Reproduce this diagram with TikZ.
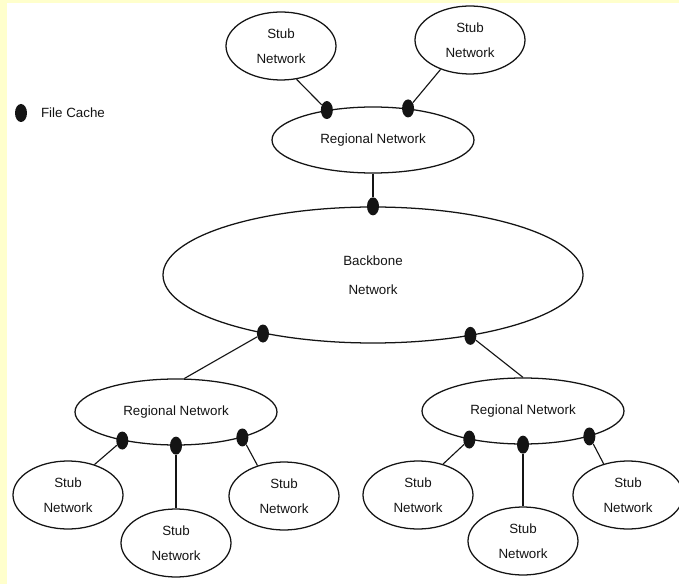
\documentclass[tikz,border=0pt]{standalone}
\usepackage{fontspec}
\setmainfont{Liberation Sans}
\usetikzlibrary{shapes.geometric,positioning}
\definecolor{paper}{HTML}{FFFFCC}
\definecolor{ink}{HTML}{141414}
\newcommand{\px}{0.025cm}

\begin{document}
\begin{tikzpicture}[x=\px,y=-\px,
  font=\fontsize{9.5}{17.5}\selectfont, text=ink,
  net/.style={ellipse, draw=ink, line width=0.9pt, inner sep=0pt, align=center},
  stubnet/.style={net, minimum width=110*\px, minimum height=68*\px},
  regnet/.style={net, minimum width=202*\px, minimum height=66*\px},
  cache/.style={ellipse, fill=ink, inner sep=0pt, minimum width=12*\px, minimum height=18*\px},
  link/.style={draw=ink, line width=0.8pt}]

% page
\fill[paper] (0,0) rectangle (679,584);
\fill[white] (7,3) rectangle (679,584);
\useasboundingbox (0,0) rectangle (679,584);

% legend
\node[cache] (key) at (21,113) {};
\node[right=0.22cm of key] (keytext) {File Cache};

% networks
\node[stubnet] (stubA) at (281,46) {Stub\\Network};
\node[stubnet] (stubB) at (470,40) {Stub\\Network};
\node[regnet] (regT) at (373,140) {Regional Network};
\node[net, minimum width=420*\px, minimum height=136*\px,
      font=\fontsize{9.5}{21}\selectfont] (bb) at (373,275) {Backbone\\Network};
\node[regnet] (regL) at (176,412) {Regional Network};
\node[regnet] (regR) at (523,411) {Regional Network};
\foreach \n/\x/\y in {sL1/68/495, sL2/176/543, sL3/284/496,
                      sR1/418/495, sR2/523/541, sR3/628/495}
  \node[stubnet] (\n) at (\x,\y) {Stub\\Network};

% file caches
\node[cache] (cT1) at (regT.147) {};
\node[cache] (cT2) at (regT.42) {};
\node[cache] (cB0) at (bb.north) {};
\node[cache] (cB1) at (bb.208) {};
\node[cache] (cB2) at (bb.328) {};
\node[cache] (cL1) at (regL.208) {};
\node[cache] (cL2) at (regL.south) {};
\node[cache] (cL3) at (regL.339) {};
\node[cache] (cR1) at (regR.208) {};
\node[cache] (cR2) at (regR.south) {};
\node[cache] (cR3) at (regR.339) {};

% links
\draw[link] (stubA.295) -- (cT1);
\draw[link] (stubB.225) -- (cT2);
\draw[link] (regT) -- (cB0);
\draw[link] (cB1) -- (regL.76);
\draw[link] (cB2) -- (regR.north);
\draw[link] (cL1) -- (sL1.49);
\draw[link] (cL2) -- (sL2);
\draw[link] (cL3) -- (sL3.131);
\draw[link] (cR1) -- (sR1.51);
\draw[link] (cR2) -- (sR2);
\draw[link] (cR3) -- (sR3.128);

\end{tikzpicture}
\end{document}
